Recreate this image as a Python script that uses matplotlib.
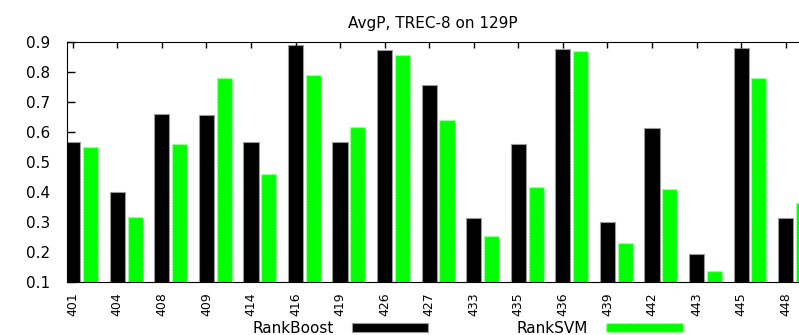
import numpy as np
import matplotlib
matplotlib.use('Agg')
import matplotlib.pyplot as plt

# Query ids and average precision per ranker
queries = ['401', '404', '408', '409', '414', '416', '419', '426', '427',
           '433', '435', '436', '439', '442', '443', '445', '448']
rankboost = [0.567, 0.400, 0.660, 0.657, 0.566, 0.890, 0.566, 0.872, 0.756,
             0.313, 0.559, 0.877, 0.301, 0.613, 0.196, 0.880, 0.315]
ranksvm = [0.551, 0.319, 0.561, 0.778, 0.460, 0.788, 0.617, 0.855, 0.640,
           0.254, 0.418, 0.869, 0.231, 0.409, 0.138, 0.779, 0.364]

plt.rcParams['font.family'] = ['DejaVu Sans']

fig = plt.figure(figsize=(7.99, 3.35), dpi=100)
ax = fig.add_axes([0.0835, 0.157, 0.9165, 0.7185])

x = np.arange(len(queries))
width = 0.34
b1 = ax.bar(x, np.array(rankboost) - 0.1, width, bottom=0.1, color='black',
            edgecolor='#999999', linewidth=0.8, label='RankBoost')
b2 = ax.bar(x + 0.40, np.array(ranksvm) - 0.1, width, bottom=0.1, color='#00ff00',
            edgecolor='#b0ffb0', linewidth=1.0, linestyle=(0, (1, 1)), label='RankSVM')

ax.set_xlim(-0.135, 16.30)
ax.set_ylim(0.1, 0.9)
ax.set_yticks(np.arange(0.1, 0.91, 0.1))
ax.set_yticklabels(['%.1f' % v for v in np.arange(0.1, 0.91, 0.1)])
ax.set_xticks(x)
ax.set_xticklabels(queries, rotation=90)

ax.tick_params(axis='y', direction='in', length=6, width=1, pad=12, labelsize=11)
ax.tick_params(axis='x', direction='in', length=4, width=1, pad=7, labelsize=9,
               top=True, bottom=True)
ax.spines['right'].set_visible(False)

ax.set_title('AvgP, TREC-8 on 129P', fontsize=11, pad=10)

ax.legend(handles=[b1, b2], ncol=2, markerfirst=False, frameon=False,
          loc='lower center', bbox_to_anchor=(0.585, -0.025), bbox_transform=fig.transFigure,
          fontsize=11, handlelength=5.0, handleheight=0.55, handletextpad=1.2,
          columnspacing=5.8, borderpad=0)

fig.savefig('out.png', dpi=100)
